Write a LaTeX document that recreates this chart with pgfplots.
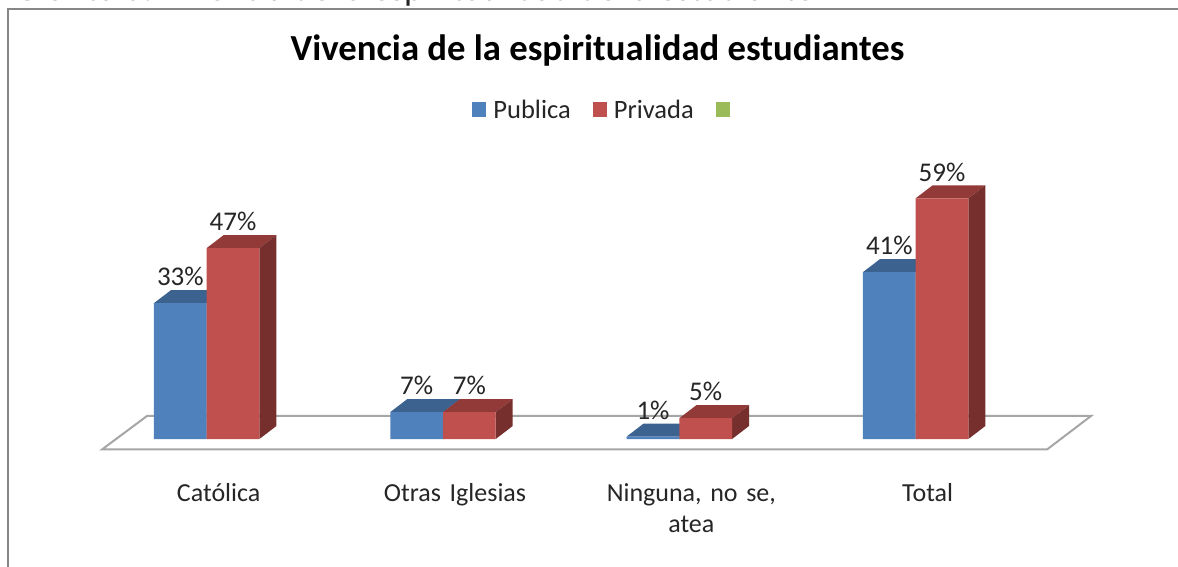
\documentclass[border=0pt]{standalone}
\usepackage{pgfplots}
\pgfplotsset{compat=1.18}
\usepackage{fontspec}
\setmainfont{Carlito}
\definecolor{blueF}{HTML}{4F81BD}
\definecolor{blueT}{HTML}{3C6290}
\definecolor{redF}{HTML}{C0504D}
\definecolor{redT}{HTML}{923A38}
\definecolor{redS}{HTML}{772F2D}
\definecolor{grn}{HTML}{9BBB59}
\definecolor{fr}{HTML}{868686}
\definecolor{flo}{HTML}{A6A6A6}
\newcommand{\dxx}{0.0719}
\newcommand{\dyy}{3.19}
\newcommand{\bw}{0.1115}
% top and side faces of the 3D bar whose centre is #1 and value #2
\newcommand{\faces}[4]{%
\pgfmathsetmacro{\xa}{#1-\bw}\pgfmathsetmacro{\xb}{#1+\bw}%
\pgfmathsetmacro{\xc}{#1-\bw+\dxx}\pgfmathsetmacro{\xd}{#1+\bw+\dxx}%
\pgfmathsetmacro{\yt}{#2+\dyy}%
\addplot[forget plot,fill=#3,draw=none] coordinates {(\xa,#2) (\xc,\yt) (\xd,\yt) (\xb,#2)} -- cycle;
\addplot[forget plot,fill=#4,draw=none] coordinates {(\xb,0) (\xd,\dyy) (\xd,\yt) (\xb,#2)} -- cycle;
}
\begin{document}
\begin{tikzpicture}
\path[use as bounding box] (0,0) rectangle (1178pt,567pt);
\fill[white] (0,0) rectangle (1178pt,567pt);
\node[anchor=base west,font=\fontsize{36pt}{40pt}\selectfont,text=black!85,inner sep=0pt] at (14pt,566.5pt) {Gráfica 5. Vivencia de la espiritualidad de la estudiante};
\draw[fr,line width=2pt] (8pt,0pt) -- (8pt,558pt) -- (1178pt,558pt);
\draw[flo,line width=2pt,fill=white,line join=miter] (102pt,117.5pt) -- (147pt,151pt) -- (1091pt,151pt) -- (1047pt,117.5pt) -- cycle;
\begin{axis}[
  at={(0,0)},anchor=south west,
  scale only axis,width=1178pt,height=567pt,
  xmin=-0.8746,xmax=4.1100,ymin=-31.37,ymax=107.6,
  clip=false,
  axis line style={draw=none},
  major tick length=0pt,
  ytick=\empty,
  xtick={0,1,2,3},
  xticklabels={Católica,Otras Iglesias,{Ninguna, no se,\\atea},Total},
  x tick label style={align=center,font=\fontsize{26pt}{31pt}\selectfont,text=black!85,
     anchor=north,yshift=87pt,xshift=12pt,text width=190pt},
  title={\textbf{Vivencia de la espiritualidad estudiantes}},
  title style={at={(0.5072,0.900)},anchor=center,font=\fontsize{36.7pt}{40pt}\selectfont,text=black},
  legend columns=3,
  legend style={draw=none,fill=none,at={(axis cs:1.111,84.1)},anchor=north west,
     font=\fontsize{26.5pt}{30pt}\selectfont,text=black!85,
     /tikz/every even column/.append style={column sep=20pt},
     /tikz/every odd column/.append style={column sep=5pt}},
  legend image code/.code={\fill[#1,draw=none] (0pt,-7pt) rectangle (14pt,8pt);},
  every node near coord/.append style={font=\fontsize{27pt}{30pt}\selectfont,text=black!85,yshift=13.5pt,anchor=south},
  /pgf/number format/.cd,fixed,precision=0,assume math mode=true,
]
\addlegendimage{fill=blueF}\addlegendentry{Publica}
\addlegendimage{fill=redF}\addlegendentry{Privada}
\addlegendimage{fill=grn}\addlegendentry{}

\faces{-0.1115}{33.3}{blueT}{blueT}\faces{0.1115}{46.8}{redT}{redS}
\faces{0.8885}{6.6}{blueT}{blueT}\faces{1.1115}{6.6}{redT}{redS}
\faces{1.8885}{0.6}{blueT}{blueT}\faces{2.1115}{5.1}{redT}{redS}
\faces{2.8885}{40.9}{blueT}{blueT}\faces{3.1115}{59.0}{redT}{redS}

\addplot[forget plot,ybar,bar width=52.7pt,bar shift=-26.35pt,fill=blueF,draw=none,
  every node near coord/.append style={xshift=-26.35pt},
  nodes near coords={\pgfmathprintnumber{\pgfplotspointmeta}\%}]
  coordinates {(0,33.3) (1,6.6) (2,0.6) (3,40.9)};
\addplot[forget plot,ybar,bar width=52.7pt,bar shift=26.35pt,fill=redF,draw=none,
  every node near coord/.append style={xshift=26.35pt},
  nodes near coords={\pgfmathprintnumber{\pgfplotspointmeta}\%}]
  coordinates {(0,46.8) (1,6.6) (2,5.1) (3,59.0)};
\end{axis}
\end{tikzpicture}
\end{document}
